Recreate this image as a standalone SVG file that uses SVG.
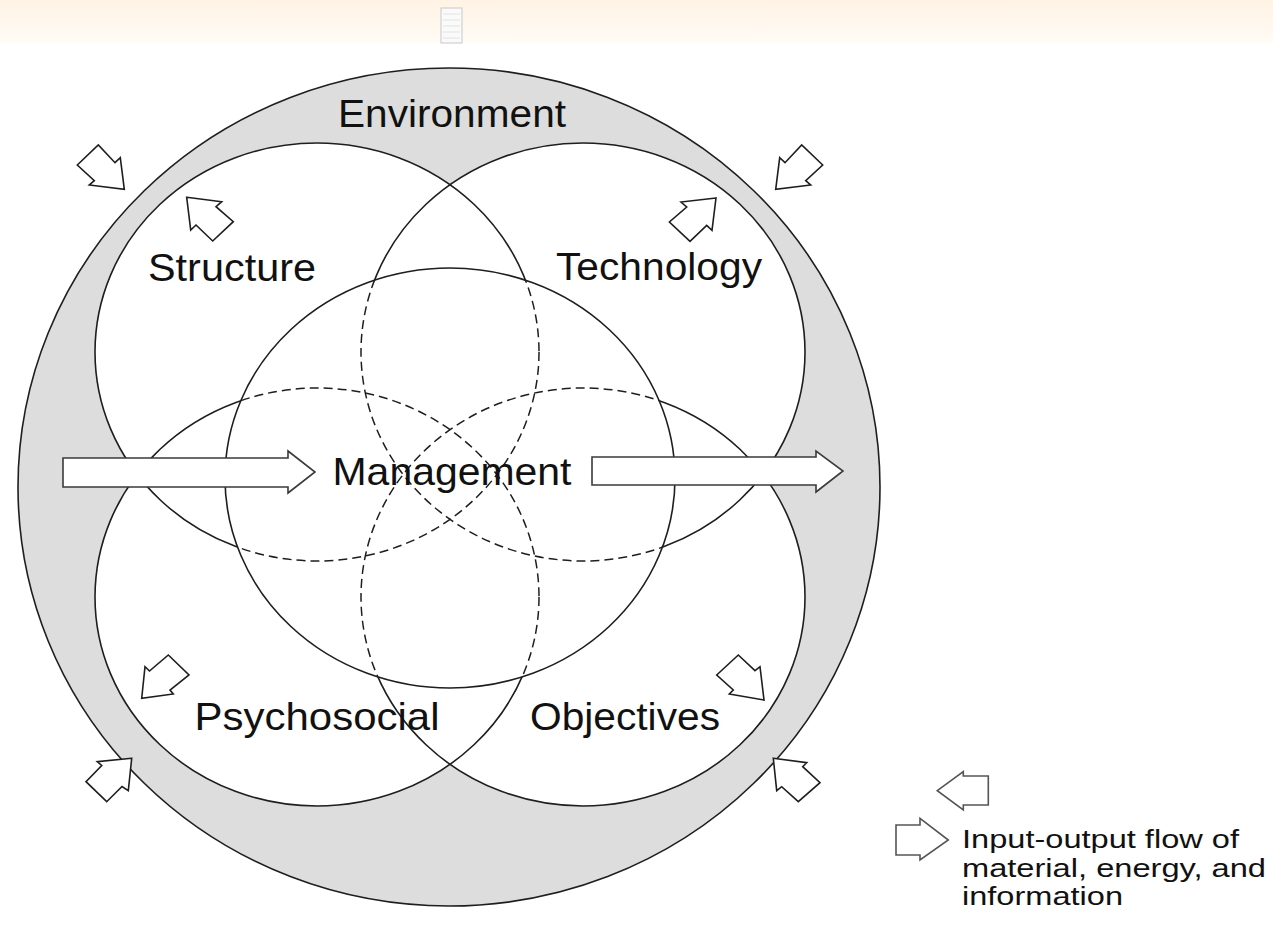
<svg xmlns="http://www.w3.org/2000/svg" width="1273" height="925" viewBox="0 0 1273 925">
<defs>
<linearGradient id="band" x1="0" y1="0" x2="0" y2="1">
<stop offset="0" stop-color="#fff3e4"/>
<stop offset="1" stop-color="#fffbf6"/>
</linearGradient>
<clipPath id="inM"><ellipse cx="450" cy="478" rx="225" ry="210"/></clipPath>
<clipPath id="outM"><path clip-rule="evenodd" d="M0,0 H1273 V925 H0 Z M225,478 a225,210 0 1,0 450,0 a225,210 0 1,0 -450,0 Z"/></clipPath>
<style>
.line{fill:none;stroke:#1e1e1e;stroke-width:1.6}
.dash{fill:none;stroke:#1e1e1e;stroke-width:1.5;stroke-dasharray:9 5}
.wf{fill:#fff;stroke:none}
.sa{fill:#fff;stroke:#1e1e1e;stroke-width:1.6;stroke-linejoin:miter}
.ba{fill:#fff;stroke:#3a3a3a;stroke-width:1.6}
.la{fill:#fff;stroke:#555;stroke-width:1.6}
.lbl{font-family:"Liberation Sans",Arial,Helvetica,sans-serif;font-size:39px;fill:#111;text-anchor:middle}
.leg{font-family:"Liberation Sans",Arial,Helvetica,sans-serif;font-size:26px;fill:#111}
</style>
</defs>
<g id="banner">
<rect x="0" y="0" width="1273" height="43" fill="url(#band)"/>
<rect x="441" y="8" width="21" height="35" fill="#fafafa" stroke="#c8c8c8" stroke-width="1"/>
<g stroke="#e2e2e2" stroke-width="1">
<line x1="443" y1="14" x2="460" y2="14"/><line x1="443" y1="20" x2="460" y2="20"/><line x1="443" y1="26" x2="460" y2="26"/><line x1="443" y1="32" x2="460" y2="32"/><line x1="443" y1="38" x2="460" y2="38"/>
</g>
</g>
<g id="environment">
<ellipse cx="449" cy="487" rx="431" ry="419" fill="#dcdddc" stroke="#1e1e1e" stroke-width="1.6"/>
</g>
<g id="fills">
<ellipse class="wf" cx="317" cy="352" rx="222" ry="209"/>
<ellipse class="wf" cx="583" cy="352" rx="222" ry="209"/>
<ellipse class="wf" cx="317" cy="597" rx="222" ry="209"/>
<ellipse class="wf" cx="583" cy="597" rx="222" ry="209"/>
</g>
<g id="structure">
<ellipse class="line" clip-path="url(#outM)" cx="317" cy="352" rx="222" ry="209"/>
<ellipse class="dash" clip-path="url(#inM)" cx="317" cy="352" rx="222" ry="209"/>
</g>
<g id="technology">
<ellipse class="line" clip-path="url(#outM)" cx="583" cy="352" rx="222" ry="209"/>
<ellipse class="dash" clip-path="url(#inM)" cx="583" cy="352" rx="222" ry="209"/>
</g>
<g id="psychosocial">
<ellipse class="line" clip-path="url(#outM)" cx="317" cy="597" rx="222" ry="209"/>
<ellipse class="dash" clip-path="url(#inM)" cx="317" cy="597" rx="222" ry="209"/>
</g>
<g id="objectives">
<ellipse class="line" clip-path="url(#outM)" cx="583" cy="597" rx="222" ry="209"/>
<ellipse class="dash" clip-path="url(#inM)" cx="583" cy="597" rx="222" ry="209"/>
</g>
<g id="management">
<ellipse class="line" cx="450" cy="478" rx="225" ry="210"/>
</g>
<g id="connectors">
<polygon class="ba" points="63,458 288,458 288,451 315,472 288,493 288,487 63,487"/>
<polygon class="ba" points="592,457 816,457 816,451 843,471 816,492 816,485 592,485"/>
<polygon class="sa" points="77.3,165 98.3,145 115,162.7 120.3,157.7 124.3,189.3 89.3,185 94.3,180.7"/>
<polygon class="sa" points="186.7,197.3 221.7,201.7 216,206.7 233.3,221.7 212.7,241 196,225 190.7,230"/>
<polygon class="sa" points="822.7,165 801.7,145 785,162.7 779.7,157.7 775.7,189.3 810.7,185 805.7,180.7"/>
<polygon class="sa" points="716,198 681,202 686.7,207 669.4,222 690,241.4 706.7,225.4 712,230.4"/>
<polygon class="sa" points="141.7,698.3 145,666.7 149.5,671 168.3,655 189,675 170,690 173.3,694"/>
<polygon class="sa" points="131.7,758.3 97.3,761.7 101.7,765.5 86,781.7 106.7,801.7 122,786.5 128.3,790.7"/>
<polygon class="sa" points="716.7,675 738.3,655 755,670.7 760,666.7 764,700 729.3,694 733.3,690"/>
<polygon class="sa" points="773.3,758.3 806.7,762.7 802.7,766.7 820,782.7 798.3,801.7 781.7,786.7 776.7,790.7"/>
</g>
<g id="labels">
<text class="lbl" x="452" y="127" textLength="228" lengthAdjust="spacingAndGlyphs">Environment</text>
<text class="lbl" x="232" y="281" textLength="168" lengthAdjust="spacingAndGlyphs">Structure</text>
<text class="lbl" x="659" y="280" textLength="206" lengthAdjust="spacingAndGlyphs">Technology</text>
<text class="lbl" x="452" y="485" textLength="239" lengthAdjust="spacingAndGlyphs">Management</text>
<text class="lbl" x="317" y="730" textLength="245" lengthAdjust="spacingAndGlyphs">Psychosocial</text>
<text class="lbl" x="625" y="730" textLength="190" lengthAdjust="spacingAndGlyphs">Objectives</text>
</g>
<g id="legend">
<polygon class="la" points="937.3,790.7 963.3,771.7 963.3,776 988.3,776 988.3,805 963.3,805 963.3,810"/>
<polygon class="la" points="896,825 920,825 920,818.3 948.3,840 920,860 920,855 896,855"/>
<text class="leg" x="962" y="848" textLength="277" lengthAdjust="spacingAndGlyphs">Input-output flow of</text>
<text class="leg" x="962" y="877" textLength="304" lengthAdjust="spacingAndGlyphs">material, energy, and</text>
<text class="leg" x="962" y="905" textLength="161" lengthAdjust="spacingAndGlyphs">information</text>
</g>
</svg>
